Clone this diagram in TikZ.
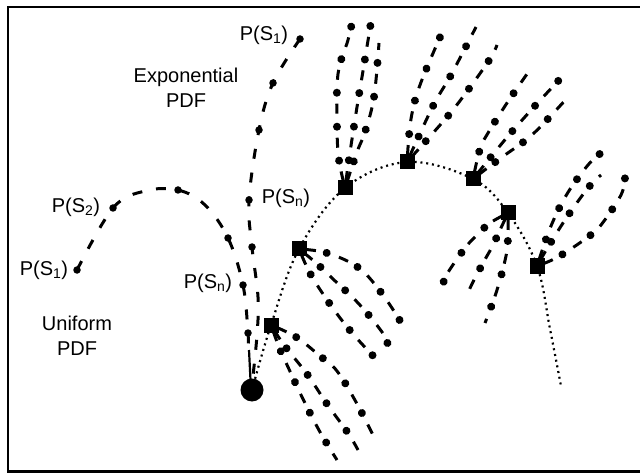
\documentclass[tikz,border=0pt]{standalone}
\usepackage{fontspec}
\setmainfont{Liberation Sans}
\begin{document}
\begin{tikzpicture}[x=1pt,y=-1pt,
  every node/.style={font=\fontsize{20}{25}\selectfont, inner sep=0pt},
  state/.style={fill=black, minimum size=15pt, inner sep=0pt},
  origin/.style={circle, fill=black, minimum size=23pt, inner sep=0pt},
  sample/.style={circle, fill=black, minimum size=7.5pt, inner sep=0pt},
  trajectory/.style={line width=2.2pt, dash pattern=on 2pt off 3.8pt},
  branch/.style={line width=3pt, dash pattern=on 10pt off 24pt, dash phase=27pt,
    postaction={draw, line width=8pt, line cap=round,
      dash pattern=on 0.01pt off 33.99pt, dash phase=6pt}},
  pdfcurve/.style={line width=3pt, dash pattern=on 10pt off 14pt},
  frame/.style={line width=2.4pt},
]
\useasboundingbox (0,0) rectangle (640,473);

% outer frame
\draw[frame] (640,7) -- (8,7) -- (8,471.5) -- (640,471.5);

% states along the trajectory
\coordinate (s1) at (271,325);
\coordinate (s2) at (299,249);
\coordinate (s3) at (345,188);
\coordinate (s4) at (407,162);
\coordinate (s5) at (473,179);
\coordinate (s6) at (508,213);
\coordinate (s7) at (537,266);
\coordinate (tend) at (561,386);

% exponential PDF samples
\draw[pdfcurve] plot[smooth, tension=0.6] coordinates {(300,39) (273,83) (259,130) (249,200) (252,247) (258,297) (257,335) (252,385)};
\node[sample] (e1) at (300,39) {};
\node[sample] (e2) at (273,83) {};
\node[sample] (e3) at (259,130) {};
\node[sample] (en) at (249,200) {};
\node[sample] (e5) at (252,247) {};

% uniform PDF samples
\draw[pdfcurve] plot[smooth, tension=0.6] coordinates {(77,270) (113,208) (145,191) (178,190) (205,205) (228,238) (243,285) (248,333) (248,345)};
\draw[line width=2.2pt] (249,350) -- (250.5,380);
\node[sample] (u1) at (77,270) {};
\node[sample] (u2) at (113,208) {};
\node[sample] (u3) at (178,190) {};
\node[sample] (u4) at (228,238) {};
\node[sample] (un) at (243,285) {};
\node[sample] (u6) at (248,333) {};

% branches from state 1
\draw[branch] plot[smooth, tension=0.6] coordinates {(s1) (296,337) (320,356) (337,371) (356,402) (374,437)};
\draw[branch] plot[smooth, tension=0.6] coordinates {(s1) (284,345) (307,374) (327,404) (348,433) (358,450)};
\draw[branch] plot[smooth, tension=0.6] coordinates {(s1) (279,347) (288,367) (303,399) (320,432) (337,460)};
% branches from state 2
\draw[branch] plot[smooth, tension=0.6] coordinates {(s2) (327,253) (359,268) (383,295) (402,324)};
\draw[branch] plot[smooth, tension=0.6] coordinates {(s2) (315,262) (333,279) (359,304) (382,332) (388,345)};
\draw[branch] plot[smooth, tension=0.6] coordinates {(s2) (311,275) (332,307) (353,334) (378,361)};
% branches from state 3
\draw[branch] plot[smooth, tension=0.6] coordinates {(s3) (339,160) (337,128) (338,74) (348,40) (353,18)};
\draw[branch] plot[smooth, tension=0.6] coordinates {(s3) (349,159) (357,107) (363,71) (371,22)};
\draw[branch] plot[smooth, tension=0.6] coordinates {(s3) (357,152) (365,132) (374,97) (379,43)};
% branches from state 4
\draw[branch] plot[smooth, tension=0.6] coordinates {(s4) (411,119) (420,85) (441,35)};
\draw[branch] plot[smooth, tension=0.6] coordinates {(s4) (433,106) (451,75) (476,27)};
\draw[branch] plot[smooth, tension=0.6] coordinates {(s4) (433,133) (456,106) (488,62) (497,45)};
% branches from state 5
\draw[branch] plot[smooth, tension=0.6] coordinates {(s5) (480,149) (488,133) (507,103) (527,74)};
\draw[branch] plot[smooth, tension=0.6] coordinates {(s5) (490,158) (509,135) (533,108) (560,79)};
\draw[branch] plot[smooth, tension=0.6] coordinates {(s5) (490,166) (505,155) (533,134) (569,96)};
% branches from state 6
\draw[branch] plot[smooth, tension=0.6] coordinates {(s6) (490,223) (477,235) (465,248) (447,274) (443,285)};
\draw[branch] plot[smooth, tension=0.6] coordinates {(s6) (500,230) (492,247) (483,263) (472,284) (467,295)};
\draw[branch] plot[smooth, tension=0.6] coordinates {(s6) (508,237) (506,256) (497,290) (485,323)};
% branches from state 7
\draw[branch] plot[smooth, tension=0.6] coordinates {(s7) (551,226) (567,194) (588,165) (601,153)};
\draw[branch] plot[smooth, tension=0.6] coordinates {(s7) (548,247) (567,217) (588,188) (601,175)};
\draw[branch] plot[smooth, tension=0.6] coordinates {(s7) (558,257) (588,237) (601,225) (621,195) (625,177)};

% the sampled trajectory
\draw[trajectory] plot[smooth, tension=0.6] coordinates {(252,390) (s1) (s2) (s3) (s4) (s5) (s6) (s7) (550,329) (tend)};

% state markers
\node[origin] (o) at (252,390) {};
\node[state] (q1) at (s1) {};
\node[state] (q2) at (s2) {};
\node[state] (q3) at (s3) {};
\node[state] (q4) at (s4) {};
\node[state] (q5) at (s5) {};
\node[state] (q6) at (s6) {};
\node[state] (q7) at (s7) {};

% labels
\node (le1) at (264,35) {P(S\textsubscript{1})};
\node[align=center] (lexp) at (186,88) {Exponential\\PDF};
\node (len) at (286,198) {P(S\textsubscript{n})};
\node (lu2) at (76,207) {P(S\textsubscript{2})};
\node (lu1) at (44,270) {P(S\textsubscript{1})};
\node (lun) at (208,283) {P(S\textsubscript{n})};
\node[align=center] (luni) at (77,336) {Uniform\\PDF};
\end{tikzpicture}
\end{document}
